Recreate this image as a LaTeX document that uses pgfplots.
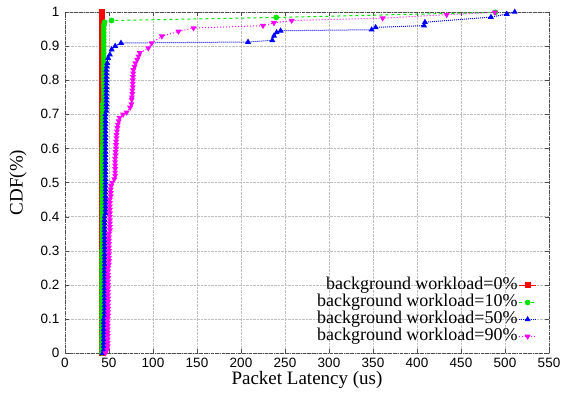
\documentclass[border=0pt]{standalone}
\usepackage{pgfplots}
\pgfplotsset{compat=1.18}
\usepackage{fontspec}
\setmainfont{Liberation Serif}
\setsansfont{Liberation Sans}
\definecolor{cred}{RGB}{255,0,0}
\definecolor{cgreen}{RGB}{0,230,0}
\definecolor{cblue}{RGB}{0,0,255}
\definecolor{cmag}{RGB}{255,0,255}
\begin{document}
\begin{tikzpicture}
\begin{axis}[
  scale only axis, width=484pt, height=341pt,
  xmin=0, xmax=550, ymin=0, ymax=1,
  clip=false,
  xtick={0,50,...,550},
  ytick={0,0.1,0.2,0.3,0.4,0.5,0.6,0.7,0.8,0.9,1},
  yticklabels={0,0.1,0.2,0.3,0.4,0.5,0.6,0.7,0.8,0.9,1},
  /pgf/number format/assume math mode=true,
  tick label style={font=\sffamily\fontsize{13.5}{13.5}\selectfont},
  yticklabel style={xshift=-2pt},
  xticklabel style={yshift=-2pt},
  label style={font=\fontsize{19}{19}\selectfont},
  xlabel={Packet Latency (us)},
  ylabel={CDF(\%)},
  xlabel style={at={(axis description cs:0.5,0)}, anchor=center, yshift=-27pt},
  ylabel style={at={(axis description cs:0,0.5)}, anchor=center, yshift=47pt},
  grid=major,
  grid style={densely dotted, gray!50},
  tick align=inside,
  major tick length=4pt,
  axis line style={black!70, densely dash dot},
  tick style={black!70},
  legend plot pos=right,
  legend cell align=right,
  legend style={draw=none, fill=none, at={(0.975,0.023)}, anchor=south east, inner sep=0pt,
    font=\fontsize{18}{18}\selectfont, row sep=0pt,
    nodes={inner sep=1pt, text height=12pt, text depth=3pt}},
]
\addplot[cred, solid, line width=1pt, mark=square*, mark size=2.5pt] coordinates {
(41.5,0)(41.5,0.01)(41.5,0.02)(41.5,0.03)(41.5,0.04)(41.5,0.05)(41.5,0.06)(41.5,0.07)(41.5,0.08)(41.5,0.09)
(41.5,0.1)(41.5,0.11)(41.5,0.12)(41.5,0.13)(41.5,0.14)(41.5,0.15)(41.5,0.16)(41.5,0.17)(41.5,0.18)(41.5,0.19)
(41.5,0.2)(41.5,0.21)(41.5,0.22)(41.5,0.23)(41.5,0.24)(41.5,0.25)(41.5,0.26)(41.5,0.27)(41.5,0.28)(41.5,0.29)
(41.5,0.3)(41.5,0.31)(41.5,0.32)(41.5,0.33)(41.5,0.34)(41.5,0.35)(41.5,0.36)(41.5,0.37)(41.5,0.38)(41.5,0.39)
(41.5,0.4)(41.5,0.41)(41.5,0.42)(41.5,0.43)(41.5,0.44)(41.5,0.45)(41.5,0.46)(41.5,0.47)(41.5,0.48)(41.5,0.49)
(41.5,0.5)(41.5,0.51)(41.5,0.52)(41.5,0.53)(41.5,0.54)(41.5,0.55)(41.5,0.56)(41.5,0.57)(41.5,0.58)(41.5,0.59)
(41.5,0.6)(41.5,0.61)(41.5,0.62)(41.5,0.63)(41.5,0.64)(41.5,0.65)(41.5,0.66)(41.5,0.67)(41.5,0.68)(41.5,0.69)
(41.5,0.7)(41.5,0.71)(41.5,0.72)(41.5,0.73)(41.5,0.74)(41.5,0.75)(41.5,0.76)(41.5,0.77)(41.5,0.78)(41.5,0.79)
(41.5,0.8)(41.5,0.81)(41.5,0.82)(41.5,0.83)(41.5,0.84)(41.5,0.85)(41.5,0.86)(41.5,0.87)(41.5,0.88)(41.5,0.89)
(41.5,0.9)(41.5,0.91)(41.5,0.92)(41.5,0.93)(41.5,0.94)(41.5,0.95)(41.5,0.96)(41.5,0.97)(41.5,0.98)(41.5,0.99)
(41.5,1)};
\addlegendentry{background workload=0\%}
\addplot[cgreen, dashed, line width=1pt, mark=*, mark size=2.3pt, mark options={solid}] coordinates {
(42,0)(42,0.01)(42,0.02)(42,0.03)(42,0.04)(42,0.05)(42,0.06)(42,0.07)(42,0.08)(42,0.09)
(42,0.1)(42,0.11)(42,0.12)(42,0.13)(42,0.14)(42,0.15)(42,0.16)(42,0.17)(42,0.18)(42,0.19)
(42,0.2)(42,0.21)(42,0.22)(42,0.23)(42,0.24)(42,0.25)(42,0.26)(42,0.27)(42,0.28)(42,0.29)
(42,0.3)(42.5,0.31)(42.5,0.32)(42.5,0.33)(42.5,0.34)(42.5,0.35)(42.5,0.36)(42.5,0.37)(42.5,0.38)(42.5,0.39)
(42.5,0.4)(42.5,0.41)(42.5,0.42)(42.5,0.43)(42.5,0.44)(42.5,0.45)(42.5,0.46)(42.5,0.47)(42.5,0.48)(42.5,0.49)
(42.5,0.5)(42.5,0.51)(42.5,0.52)(42.5,0.53)(42.5,0.54)(42.5,0.55)(42.5,0.56)(42.5,0.57)(42.5,0.58)(42.5,0.59)
(42.5,0.6)(43,0.61)(43,0.62)(43,0.63)(43,0.64)(43,0.65)(43,0.66)(43,0.67)(43,0.68)(43,0.69)
(43,0.7)(43,0.71)(43,0.72)(43,0.73)(44,0.74)(44,0.75)(44,0.76)(44,0.77)(44,0.78)(44,0.79)
(44,0.8)(44,0.81)(44,0.82)(44,0.83)(44,0.84)(44,0.85)(44,0.86)(44,0.87)(44,0.88)(44,0.89)
(44,0.9)(44,0.91)(44,0.92)(44,0.93)(44,0.94)(44,0.95)(44,0.96)(44.5,0.965)(45,0.97)
(53,0.975)(240,0.984)(489,0.999)};
\addlegendentry{background workload=10\%}
\addplot[cblue, densely dotted, line width=1pt, mark=triangle*, mark size=2.5pt, mark options={solid}] coordinates {
(43,0)(44,0.01)(44,0.02)(44,0.03)(44,0.04)(44,0.05)(44,0.06)(44,0.07)(44,0.08)(44,0.09)
(44,0.1)(45,0.11)(45,0.12)(45,0.13)(45,0.14)(45,0.15)(45,0.16)(45,0.17)(45,0.18)(45,0.19)
(45,0.2)(45,0.21)(45,0.22)(45,0.23)(45,0.24)(45,0.25)(45,0.26)(45,0.27)(45,0.28)(45,0.29)
(45,0.3)(45,0.31)(45,0.32)(45,0.33)(45,0.34)(45,0.35)(45,0.36)(45,0.37)(45,0.38)(45,0.39)
(45,0.4)(46,0.41)(46,0.42)(46,0.43)(46,0.44)(46,0.45)(46,0.46)(46,0.47)(46,0.48)(46,0.49)
(46,0.5)(46,0.51)(46,0.52)(46,0.53)(46,0.54)(46,0.55)(46,0.56)(46,0.57)(46,0.58)(46,0.59)
(46,0.6)(46,0.61)(46,0.62)(46,0.63)(46,0.64)(46,0.65)(46,0.66)(46,0.67)(46,0.68)(46,0.69)
(46,0.7)(47,0.71)(47,0.72)(47,0.73)(47,0.74)(47,0.75)(47,0.76)(47,0.77)(47,0.78)(47,0.79)
(47,0.8)(47,0.81)(47,0.82)(47,0.83)(47.5,0.84)(48,0.85)(49,0.865)(51,0.875)(53,0.89)
(57,0.9)(63.6,0.909)(208,0.912)(235.6,0.917)(237.5,0.93)(240.5,0.94)(245,0.945)(348.5,0.948)(353,0.955)
(408,0.96)(409,0.97)(484,0.985)(502,0.994)(511,1.0)};
\addlegendentry{background workload=50\%}
\addplot[cmag, dotted, line width=1pt, mark=triangle*, mark size=2.5pt, mark options={solid, rotate=180}] coordinates {
(46,0)(48,0.01)(48.5,0.02)(48.5,0.03)(48.5,0.04)(48.5,0.05)(48.5,0.06)(48.5,0.07)(48.5,0.08)(48.5,0.09)
(48.5,0.1)(49,0.11)(49,0.12)(49,0.13)(49,0.14)(49,0.15)(49,0.16)(49,0.17)(49,0.18)(49,0.19)
(49,0.2)(49,0.21)(49,0.22)(49,0.23)(49,0.24)(49,0.25)(50,0.26)(50,0.27)(50,0.28)(50,0.29)
(50,0.3)(50,0.31)(50,0.32)(50,0.33)(50,0.34)(50,0.35)(51,0.36)(51,0.37)(51,0.38)(51,0.39)
(51,0.4)(51,0.41)(51,0.42)(51,0.43)(51,0.44)(51,0.45)(52,0.46)(52,0.47)(52,0.48)(52.5,0.49)
(53.5,0.5)(56,0.51)(57,0.52)(57,0.53)(57,0.54)(57,0.55)(57,0.56)(57,0.57)(57.5,0.58)(57.5,0.59)
(58,0.6)(58,0.61)(58,0.62)(58.5,0.63)(58.5,0.64)(59,0.65)(59.5,0.66)(60,0.67)(61,0.68)(62,0.69)
(66,0.7)(70,0.706)(74,0.72)(75.5,0.73)(75.8,0.743)(76,0.75)(76.5,0.76)(76.5,0.77)(77,0.78)(77,0.79)
(77,0.8)(77.2,0.81)(77.5,0.82)(77.7,0.83)(79,0.84)(80,0.85)(82,0.86)(83.5,0.87)(85,0.88)
(94.7,0.894)(98.5,0.909)(110,0.929)(129,0.943)(146,0.953)(225,0.96)(237.5,0.968)
(257.6,0.975)(361,0.982)(433.7,0.992)(488.6,0.999)};
\addlegendentry{background workload=90\%}
\end{axis}
\pgfresetboundingbox
\path (current axis.south west) ++(-65pt,-41pt) rectangle ([xshift=14pt,yshift=12pt]current axis.north east);
\end{tikzpicture}
\end{document}
